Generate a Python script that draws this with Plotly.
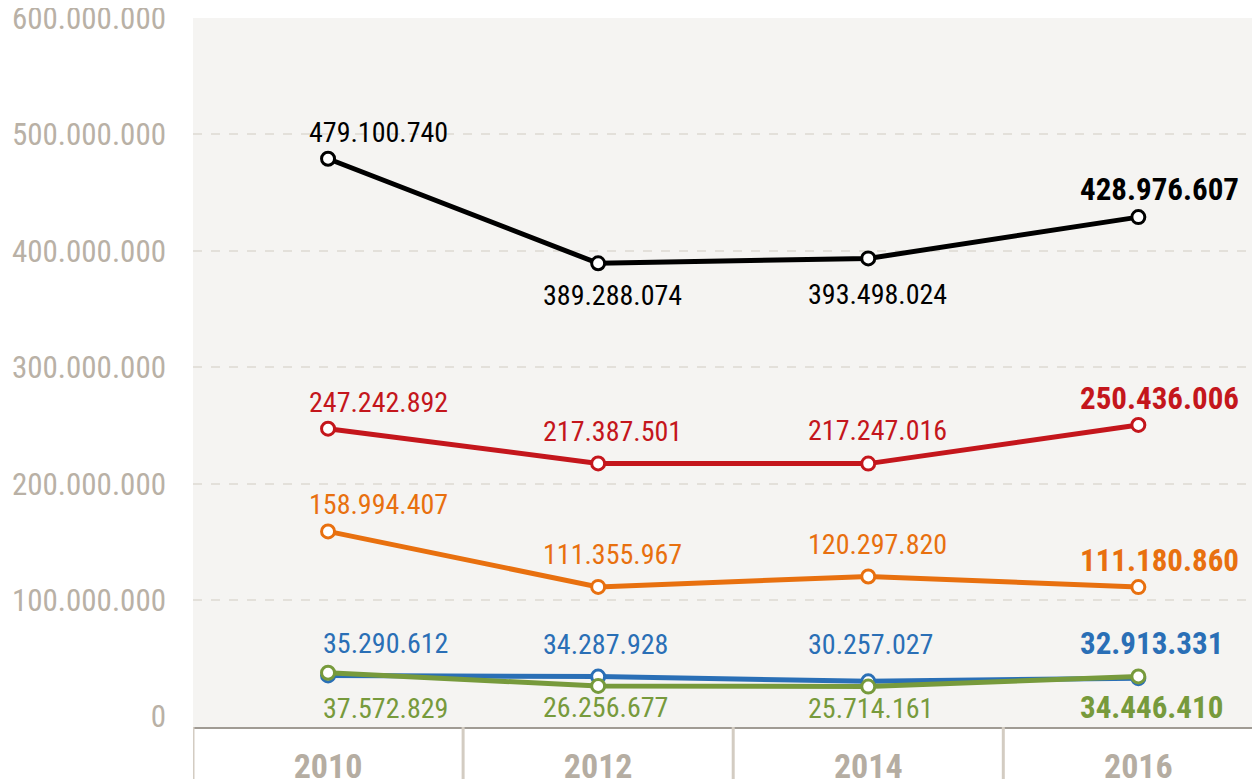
import plotly.graph_objects as go

years = ["2010", "2012", "2014", "2016"]

total = [479100740, 389288074, 393498024, 428976607]
red_series = [247242892, 217387501, 217247016, 250436006]
orange_series = [158994407, 111355967, 120297820, 111180860]
blue_series = [35290612, 34287928, 30257027, 32913331]
green_series = [37572829, 26256677, 25714161, 34446410]

y_ticks = [0, 100000000, 200000000, 300000000, 400000000, 500000000, 600000000]

FONT = "Liberation Sans Narrow, Roboto Condensed, Roboto, sans-serif"


def fmt(v):
    return f"{v:,}".replace(",", ".")


# label offsets in pixels from each point (positive = up)
series = [
    (total, "#000000", [26, -32, -36, 28]),
    (red_series, "#c4161c", [26, 32, 33, 26]),
    (orange_series, "#e8700f", [27, 32, 32, 27]),
    (blue_series, "#2a6fb6", [32, 32, 37, 35]),
    (green_series, "#779a3c", [-36, -22, -22, -31]),
]

# horizontal placement of the labels per year column
col_anchor = ["right", "left", "left", "left"]
col_shift = [122, -57, -62, -60]

fig = go.Figure()

# gridlines on a second axis so the zero line stays clean
fig.add_trace(go.Scatter(x=years, y=[None] * 4, yaxis="y2", showlegend=False))

for values, color, offsets in series:
    fig.add_trace(
        go.Scatter(
            x=years,
            y=values,
            mode="lines+markers",
            line=dict(color=color, width=5),
            marker=dict(size=13, color="white", line=dict(color=color, width=3)),
            cliponaxis=False,
            showlegend=False,
            hoverinfo="skip",
        )
    )
    for i, (v, dy) in enumerate(zip(values, offsets)):
        last = i == len(years) - 1
        fig.add_annotation(
            x=i, y=v, xref="x", yref="y",
            text="<b>" + fmt(v) + "</b>" if last else fmt(v),
            showarrow=False,
            xanchor=col_anchor[i],
            xshift=col_shift[i],
            yanchor="middle",
            yshift=dy,
            font=dict(family=FONT, size=31 if last else 28, color=color),
        )

# separators under the x axis
for b in [-0.5, 0.5, 1.5, 2.5, 3.5]:
    fig.add_shape(
        type="line", xref="x", yref="paper", x0=b, x1=b, y0=0, y1=-0.08,
        line=dict(color="#d3ccc2", width=3),
    )

# the page body adds 8px around the figure, margins allow for it
fig.update_layout(
    width=1260,
    height=779,
    margin=dict(l=185, r=0, t=10, b=60),
    paper_bgcolor="white",
    plot_bgcolor="#f5f4f2",
    separators=",.",
    xaxis=dict(
        type="category",
        range=[-0.5, 3.48],
        showgrid=False,
        showline=True,
        linecolor="#a09b94",
        linewidth=2,
        ticks="",
        tickfont=dict(family=FONT, size=34, color="#b5ada2", weight="bold"),
        ticklabelstandoff=8,
        automargin=False,
    ),
    yaxis=dict(
        range=[-9000000, 600000000],
        tickvals=y_ticks,
        ticktext=[fmt(v) for v in y_ticks],
        showgrid=False,
        zeroline=False,
        ticks="",
        tickfont=dict(family=FONT, size=31, color="#b9b1a6"),
        ticklabelstandoff=26,
        ticklabeloverflow="allow",
        automargin=False,
    ),
    yaxis2=dict(
        overlaying="y",
        range=[-9000000, 600000000],
        tickvals=y_ticks[1:],
        showticklabels=False,
        showgrid=True,
        gridcolor="#e3e0da",
        gridwidth=2,
        griddash="dash",
        zeroline=False,
        automargin=False,
    ),
)

fig.write_html("out.html")
